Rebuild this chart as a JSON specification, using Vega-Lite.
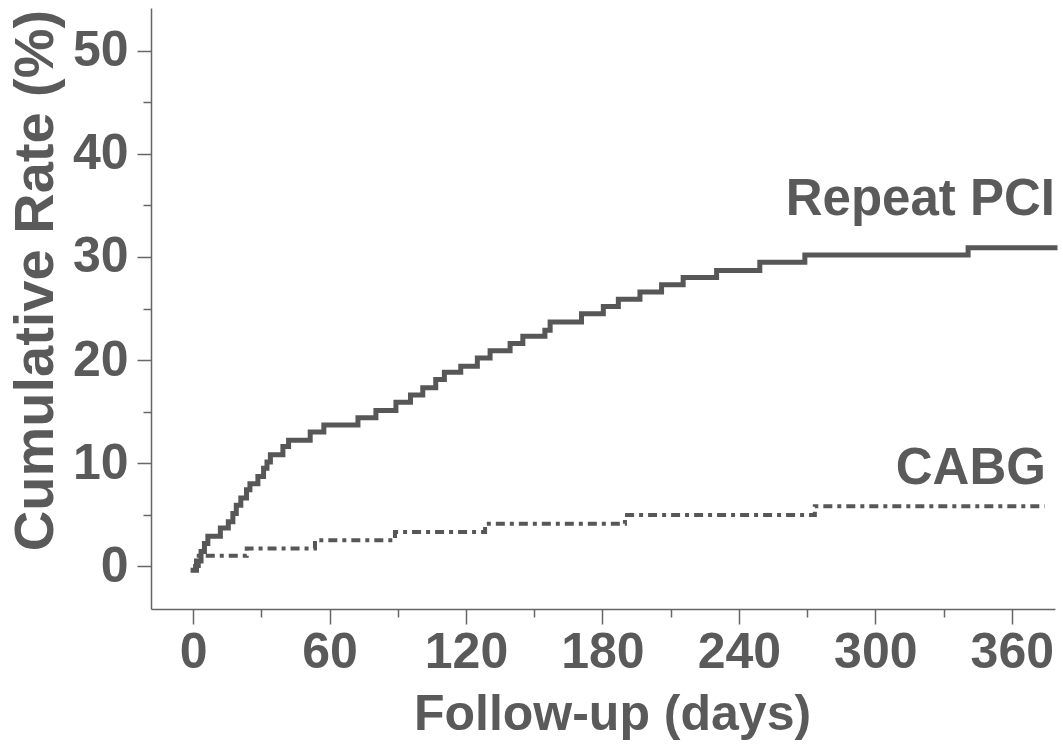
{
  "$schema": "https://vega.github.io/schema/vega-lite/v6.json",
  "width": 904,
  "height": 601,
  "autosize": {"type": "none"},
  "padding": {"left": 151, "top": 8, "right": 8, "bottom": 140},
  "background": "white",
  "config": {
    "view": {"stroke": null},
    "axis": {
      "grid": false,
      "domainColor": "#666666",
      "domainWidth": 1.5,
      "tickColor": "#666666",
      "tickWidth": 1.5,
      "labelFont": "Liberation Sans",
      "labelFontWeight": "bold",
      "labelFontSize": 50,
      "labelColor": "#5a5a5a",
      "titleFont": "Liberation Sans",
      "titleFontWeight": "bold",
      "titleFontSize": 50,
      "titleColor": "#5a5a5a"
    }
  },
  "datasets": {
    "pci": [
      {"day": 0, "rate": -0.4},
      {"day": 1.5, "rate": 0.5},
      {"day": 3.5, "rate": 1.4},
      {"day": 5, "rate": 2.2},
      {"day": 6.5, "rate": 2.9},
      {"day": 12, "rate": 3.7},
      {"day": 15.5, "rate": 4.3},
      {"day": 17.5, "rate": 5.1},
      {"day": 19, "rate": 5.9},
      {"day": 21, "rate": 6.6},
      {"day": 23.5, "rate": 7.4},
      {"day": 25, "rate": 8.0},
      {"day": 28.5, "rate": 8.7},
      {"day": 31, "rate": 9.5},
      {"day": 32.5, "rate": 10.1},
      {"day": 34, "rate": 10.8},
      {"day": 39.5, "rate": 11.6},
      {"day": 42, "rate": 12.2},
      {"day": 51.5, "rate": 13.0},
      {"day": 57.5, "rate": 13.7},
      {"day": 72.5, "rate": 14.4},
      {"day": 80.4, "rate": 15.1},
      {"day": 89.2, "rate": 15.9},
      {"day": 95.6, "rate": 16.6},
      {"day": 101, "rate": 17.3},
      {"day": 106.7, "rate": 18.1},
      {"day": 110.5, "rate": 18.8},
      {"day": 117.7, "rate": 19.4},
      {"day": 125, "rate": 20.2},
      {"day": 130.6, "rate": 20.9},
      {"day": 139.4, "rate": 21.6},
      {"day": 145, "rate": 22.3},
      {"day": 154.7, "rate": 22.9},
      {"day": 157, "rate": 23.7},
      {"day": 170.8, "rate": 24.5},
      {"day": 180.4, "rate": 25.2},
      {"day": 187, "rate": 25.9},
      {"day": 196.5, "rate": 26.6},
      {"day": 206, "rate": 27.3},
      {"day": 215.5, "rate": 28.0},
      {"day": 230.2, "rate": 28.7},
      {"day": 249.2, "rate": 29.5},
      {"day": 269, "rate": 30.2},
      {"day": 340.8, "rate": 30.9},
      {"day": 379, "rate": 30.9}
    ],
    "cabg": [
      {"day": 0, "rate": 0},
      {"day": 2.5, "rate": 1.0},
      {"day": 23.6, "rate": 1.7},
      {"day": 53.6, "rate": 2.5},
      {"day": 88.8, "rate": 3.3},
      {"day": 128.4, "rate": 4.1},
      {"day": 189.9, "rate": 4.95},
      {"day": 273.4, "rate": 5.8},
      {"day": 374.5, "rate": 5.8}
    ],
    "labels": [
      {"label": "Repeat PCI", "day": 379, "rate": 34.1},
      {"label": "CABG", "day": 375, "rate": 7.95}
    ]
  },
  "layer": [
    {
      "data": {"name": "pci"},
      "mark": {"type": "line", "interpolate": "step-after", "color": "#575757", "strokeWidth": 5, "strokeCap": "square"},
      "encoding": {
        "x": {
          "field": "day", "type": "quantitative",
          "scale": {"domain": [-18.5, 379], "nice": false, "zero": false},
          "axis": {
            "orient": "bottom",
            "values": [0, 60, 120, 180, 240, 300, 360],
            "tickSize": 15,
            "labelPadding": 3,
            "labelFlush": false,
            "labelOverlap": false,
            "title": "Follow-up (days)",
            "titleX": 461,
            "titleY": 120,
            "titleAlign": "center",
            "titleBaseline": "alphabetic"
          }
        },
        "y": {
          "field": "rate", "type": "quantitative",
          "scale": {"domain": [-4.17, 54.17], "nice": false, "zero": false},
          "axis": {
            "orient": "left",
            "values": [0, 10, 20, 30, 40, 50],
            "tickSize": 14,
            "labelPadding": 9,
            "labelFlush": false,
            "labelOverlap": false,
            "title": "Cumulative Rate (%)",
            "titleFontSize": 56,
            "titleAngle": 270,
            "titleX": -99,
            "titleY": 272,
            "titleAlign": "center",
            "titleBaseline": "alphabetic"
          }
        }
      }
    },
    {
      "data": {"name": "cabg"},
      "mark": {"type": "line", "interpolate": "step-after", "color": "#575757", "strokeWidth": 4, "strokeDash": [9, 5, 4, 5]},
      "encoding": {
        "x": {
          "field": "day", "type": "quantitative",
          "scale": {"domain": [-18.5, 379], "nice": false, "zero": false},
          "axis": {
            "orient": "bottom",
            "values": [30, 90, 150, 210, 270, 330],
            "tickSize": 8,
            "labels": false,
            "domain": false,
            "title": null
          }
        },
        "y": {
          "field": "rate", "type": "quantitative",
          "scale": {"domain": [-4.17, 54.17], "nice": false, "zero": false},
          "axis": {
            "orient": "left",
            "values": [5, 15, 25, 35, 45],
            "tickSize": 8,
            "labels": false,
            "domain": false,
            "title": null
          }
        }
      }
    },
    {
      "data": {"name": "labels"},
      "mark": {"type": "text", "align": "right", "baseline": "alphabetic", "font": "Liberation Sans", "fontWeight": "bold", "fontSize": 51, "color": "#5a5a5a"},
      "encoding": {
        "x": {"field": "day", "type": "quantitative", "scale": {"domain": [-18.5, 379], "nice": false, "zero": false}, "axis": null},
        "y": {"field": "rate", "type": "quantitative", "scale": {"domain": [-4.17, 54.17], "nice": false, "zero": false}, "axis": null},
        "text": {"field": "label", "type": "nominal"}
      }
    }
  ],
  "resolve": {"axis": {"x": "independent", "y": "independent"}}
}
